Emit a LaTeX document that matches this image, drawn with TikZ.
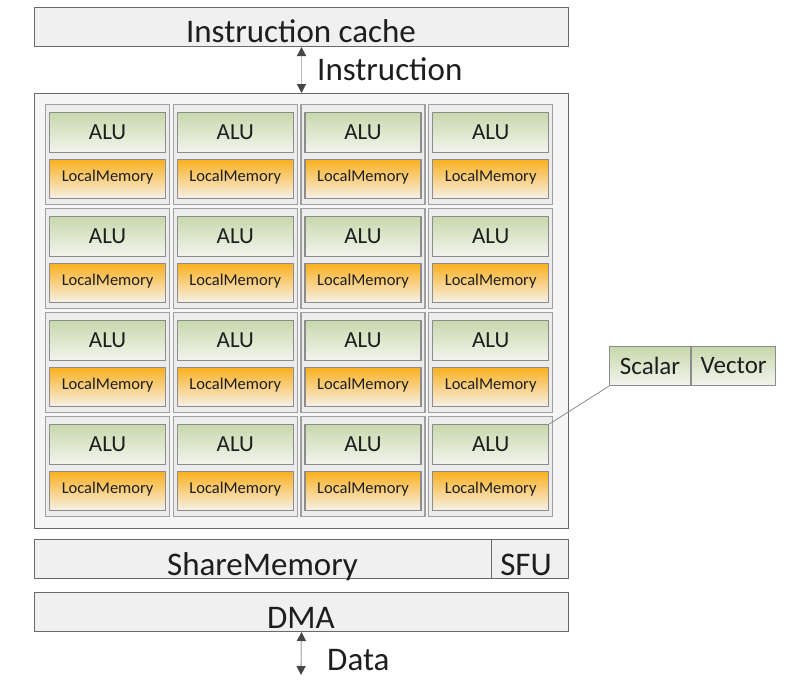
\documentclass[tikz,border=0pt]{standalone}
\usepackage{fontspec}
\setmainfont{Carlito}
\usetikzlibrary{arrows.meta,positioning}

\definecolor{panelfill}{RGB}{240,240,240}
\definecolor{corefill}{RGB}{245,245,245}
\definecolor{cellfill}{RGB}{236,236,236}
\definecolor{edgedark}{RGB}{105,105,105}
\definecolor{edgemid}{RGB}{140,140,140}
\definecolor{edgelight}{RGB}{160,160,160}
\definecolor{alutop}{RGB}{200,216,172}
\definecolor{alubot}{RGB}{243,244,238}
\definecolor{memtop}{RGB}{250,176,32}
\definecolor{membot}{RGB}{246,241,234}
\definecolor{inktext}{RGB}{30,30,30}
\definecolor{stemgray}{RGB}{185,185,185}
\definecolor{tipgray}{RGB}{70,70,70}

\begin{document}
\begin{tikzpicture}[x=1pt,y=-1pt,
  panel/.style={draw=edgedark, line width=1pt, fill=panelfill, inner sep=0pt,
    anchor=north west, minimum height=39pt},
  cell/.style={draw=edgelight, line width=1.2pt, fill=cellfill, inner sep=0pt,
    anchor=north west, minimum width=124pt, minimum height=100pt},
  alu/.style={draw=edgemid, line width=1.1pt, top color=alutop, bottom color=alubot,
    inner sep=0pt, minimum width=116pt, minimum height=40pt, text=inktext,
    font=\fontsize{23}{23}\selectfont},
  lmem/.style={draw=edgemid, line width=1.1pt, top color=memtop, bottom color=membot,
    inner sep=0pt, minimum width=116pt, minimum height=39pt, text=inktext,
    font=\fontsize{16.5}{16.5}\selectfont},
  part/.style={draw=edgemid, line width=1.1pt, top color=alutop, bottom color=alubot,
    inner sep=0pt, minimum height=39pt, text=inktext,
    font=\fontsize{25}{25}\selectfont},
  bigtext/.style={text=inktext, inner sep=0pt, font=\fontsize{33}{33}\selectfont},
  biarrow/.style={stemgray, line width=1.3pt,
    {Triangle[length=9pt,width=9pt,color=tipgray]}-{Triangle[length=9pt,width=9pt,color=tipgray]}}]

  \newcommand\cellX{127.7};
  \newcommand\cellY{104};

  \useasboundingbox (0,0) rectangle (789,681); %% page size

  %% top
  \node[panel, minimum width=534pt] (icache) at (34,7) {};
  \node[bigtext, anchor=base] (icachetext) at (301,42) {Instruction cache};

  %% core array
  \node[panel, fill=corefill, minimum width=534pt, minimum height=435pt] (core) at (34,93) {};
  \draw[biarrow] (icache.south) -- (core.north);
  \node[bigtext, anchor=base west] (inst) at (317,80) {Instruction};

  \foreach \c in {1,...,4}
  \foreach \r in {1,...,4}{
    \node[cell] (cell-\c-\r) at ({45+\cellX*(\c-1)}, {104+\cellY*(\r-1)}) {};
    \node[alu, anchor=north] (alu-\c-\r) at ([yshift=-8pt]cell-\c-\r.north) {ALU};
    \node[lmem, below=6pt of alu-\c-\r, text depth=6pt] (lmem-\c-\r) {LocalMemory};
  }

  %% zoom on one ALU
  \node[part, anchor=north west, minimum width=81pt] (scalar) at (609,346) {Scalar};
  \node[part, right=0pt of scalar, minimum width=84pt] (vector) {Vector};
  \draw[edgemid, line width=0.8pt] (scalar.south west) -- (alu-4-4.north east);

  %% bottom
  \node[panel, minimum width=457pt] (share) at (34,539) {};
  \node[panel, minimum width=77pt] (sfu) at (491,539) {};
  \node[bigtext, anchor=base] (sharetext) at (262.5,575) {ShareMemory};
  \node[bigtext, anchor=base] (sfutext) at (526,575) {SFU};

  \node[panel, minimum width=534pt] (dma) at (34,592) {};
  \node[bigtext, anchor=base] (dmatext) at (301,628) {DMA};
  \coordinate (dataend) at (301,675);
  \draw[biarrow] (dma.south) -- (dataend);
  \node[bigtext, anchor=base west] (data) at (327,670) {Data};

\end{tikzpicture}
\end{document}
